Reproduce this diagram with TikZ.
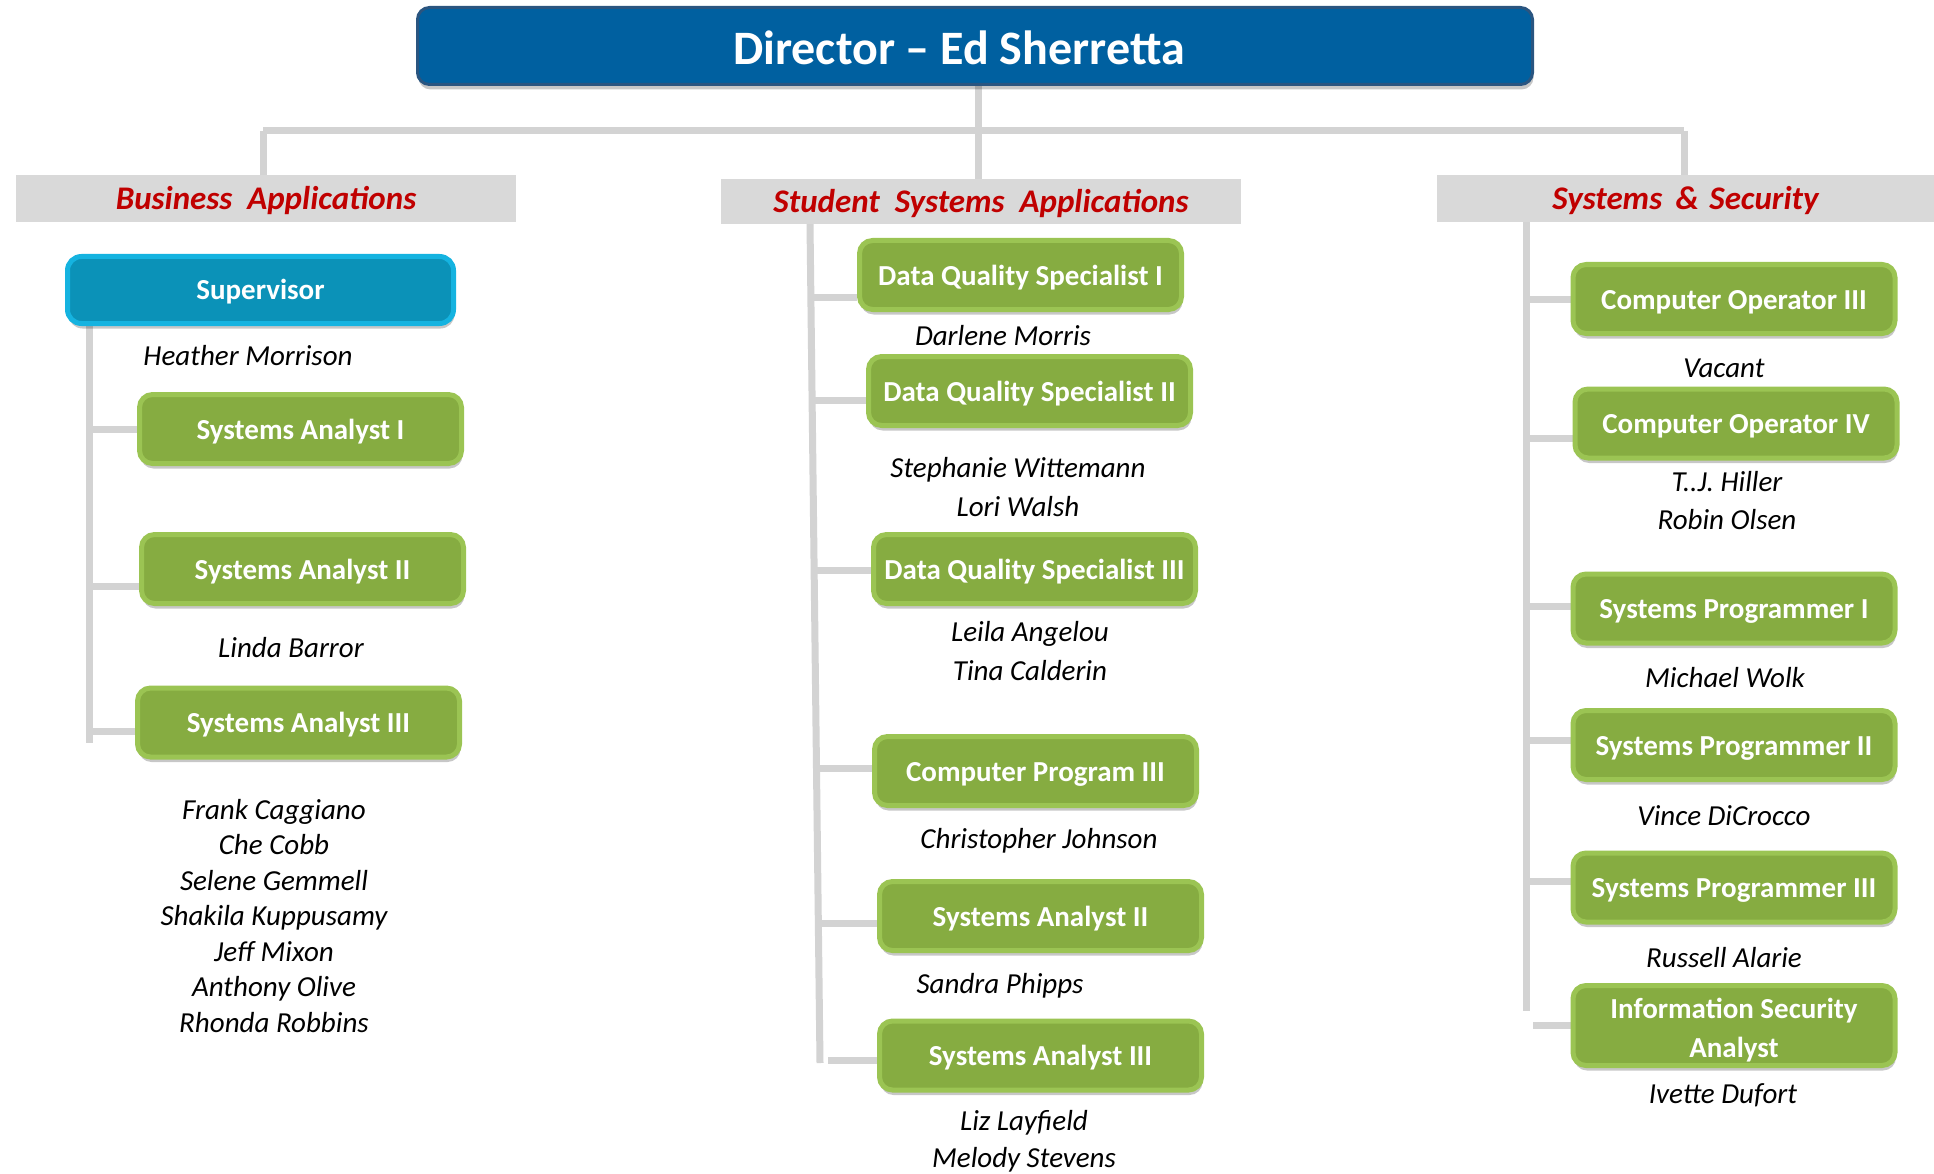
\documentclass[tikz,border=0pt]{standalone}
\usepackage{fontspec}
\setmainfont{Carlito}
\usetikzlibrary{shadows}
\pgfdeclarelayer{bg}
\pgfsetlayers{bg,main}
\definecolor{gfill}{HTML}{86AC41}
\definecolor{gline}{HTML}{9BC453}
\definecolor{dfill}{HTML}{0060A0}
\definecolor{dline}{HTML}{2A5580}
\definecolor{sfill}{HTML}{0B92B8}
\definecolor{sline}{HTML}{15B3E0}
\definecolor{hfill}{HTML}{D9D9D9}
\definecolor{conncol}{HTML}{D3D3D3}
\definecolor{hred}{HTML}{C00000}
\tikzset{
  boxshadow/.style={drop shadow={shadow xshift=1pt, shadow yshift=-5pt, fill=black, opacity=0.22}},
  gbox/.style={boxshadow, draw=gline, fill=gfill, line width=5pt, rounded corners=13pt,
    minimum width=322pt, minimum height=69pt, inner sep=0pt, text=white,
    text height=20pt, text depth=0pt,
    font=\fontsize{29}{39}\selectfont\bfseries, align=center},
  isabox/.style={boxshadow, draw=gline, fill=gfill, line width=5pt, rounded corners=13pt,
    minimum width=322pt, minimum height=80pt, inner sep=0pt, text=white,
    font=\fontsize{29}{39}\selectfont\bfseries},
  supbox/.style={boxshadow, draw=sline, fill=sfill, line width=5pt, rounded corners=14pt,
    minimum width=386pt, minimum height=67pt, inner sep=0pt, text=white,
    text height=20pt, text depth=2pt,
    font=\fontsize{29}{33}\selectfont\bfseries},
  dirbox/.style={boxshadow, draw=dline, fill=dfill, line width=3pt, rounded corners=12pt,
    minimum width=1115pt, minimum height=77pt, inner sep=0pt, text=white,
    text height=38pt, text depth=0pt,
    font=\fontsize{48}{52}\selectfont\bfseries},
  hbar/.style={fill=hfill, inner sep=0pt, text=hred, text height=23pt, text depth=1pt,
    font=\fontsize{33}{37}\selectfont\bfseries\itshape},
  pname/.style={inner sep=0pt, align=center, font=\fontsize{29}{34}\selectfont\itshape},
  conn/.style={draw=conncol, line width=7pt},
}
\begin{document}
\begin{tikzpicture}[x=1pt,y=-1pt]
\useasboundingbox (0,0) rectangle (1934,1174);
% director
\node[dirbox] (dir) at (975,46) {Director -- Ed Sherretta\hspace*{32pt}};
% header bars
\node[hbar, minimum width=500pt, minimum height=47pt] (hl) at (266,198.5) {Business \ Applications};
\node[hbar, minimum width=520pt, minimum height=45pt] (hm) at (981,201.5) {Student \ Systems \ Applications};
\node[hbar, minimum width=497pt, minimum height=47pt] (hr) at (1685.5,198.5) {Systems\hspace{6pt} \&\hspace{3pt} Security};
% left column
\node[supbox] (sup) at (260.5,290) {Supervisor};
\node[pname] (n1) at (248,356) {Heather Morrison};
\node[gbox] (la1) at (300.5,429) {Systems Analyst I};
\node[gbox] (la2) at (302.5,569) {Systems Analyst II};
\node[pname] (n2) at (291,648) {Linda Barror};
\node[gbox] (la3) at (298.5,722.5) {Systems Analyst III};
\node[pname, font=\fontsize{29}{35.5}\selectfont\itshape] (n3) at (274,916) {Frank Caggiano\\Che Cobb\\Selene Gemmell\\Shakila Kuppusamy\\Jeff Mixon\\Anthony Olive\\Rhonda Robbins};
% middle column
\node[gbox] (m1) at (1020.5,275) {Data Quality Specialist I};
\node[pname] (n4) at (1003,336) {Darlene Morris};
\node[gbox] (m2) at (1029.5,391) {Data Quality Specialist II};
\node[pname, font=\fontsize{29}{39}\selectfont\itshape] (n5) at (1018,487) {Stephanie Wittemann\\Lori Walsh};
\node[gbox] (m3) at (1034.5,569) {Data Quality Specialist III};
\node[pname, font=\fontsize{29}{39}\selectfont\itshape] (n6) at (1030,651) {Leila Angelou\\Tina Calderin};
\node[gbox] (m4) at (1035.5,771) {Computer Program III};
\node[pname] (n7) at (1039,841) {Christopher Johnson};
\node[gbox] (m5) at (1040.5,916) {Systems Analyst II};
\node[pname] (n8) at (1000,986) {Sandra Phipps};
\node[gbox] (m6) at (1040.5,1055.5) {Systems Analyst III};
\node[pname, font=\fontsize{29}{37}\selectfont\itshape] (n9) at (1024,1141) {Liz Layfield\\Melody Stevens};
% right column
\node[gbox] (r1) at (1734,299) {Computer Operator III};
\node[pname] (n10) at (1724,368) {Vacant};
\node[gbox] (r2) at (1736,423.5) {Computer Operator IV};
\node[pname, font=\fontsize{29}{38}\selectfont\itshape] (n11) at (1727,501) {T..J. Hiller\\Robin Olsen};
\node[gbox] (r3) at (1734,608.5) {Systems Programmer I};
\node[pname] (n12) at (1725,678) {Michael Wolk};
\node[gbox] (r4) at (1734,745) {Systems Programmer II};
\node[pname] (n13) at (1724,816) {Vince DiCrocco};
\node[gbox] (r5) at (1734,887.5) {Systems Programmer III};
\node[pname] (n14) at (1724,958) {Russell Alarie};
\node[isabox] (r6) at (1734,1025.5) {\raisebox{0pt}[\height][\dimexpr\depth-10pt\relax]{\begin{tabular}{@{}c@{}}Information Security\\Analyst\end{tabular}}};
\node[pname] (n15) at (1723,1095) {Ivette Dufort};
% connectors
\coordinate (jl) at (263,131);
\coordinate (jm) at (978,131);
\coordinate (jr) at (1684,131);
\coordinate (lb) at (89,743);
\coordinate (mt) at (810,224);
\coordinate (mb) at (820,1063);
\coordinate (rt) at (1526,222);
\coordinate (rb) at (1526,1011);
\coordinate (bl1) at (89,429);
\coordinate (bl2) at (89,586);
\coordinate (bl3) at (89,731);
\coordinate (bm1) at (811,297);
\coordinate (bm2) at (812,400);
\coordinate (bm3) at (814,570);
\coordinate (bm4) at (816,768);
\coordinate (bm5) at (818,923);
\coordinate (bm6) at (828,1060);
\coordinate (br1) at (1526,299);
\coordinate (br2) at (1526,438);
\coordinate (br3) at (1526,606);
\coordinate (br4) at (1526,740);
\coordinate (br5) at (1526,881);
\coordinate (br6) at (1533,1025);
\begin{pgfonlayer}{bg}
\draw[conn] (jl) -- (jr);
\draw[conn] (dir.south -| jm) -- (hm.north -| jm);
\draw[conn] (jl) -- (hl.north -| jl);
\draw[conn] (jr) -- (hr.north -| jr);
\draw[conn] (sup.south -| lb) -- (lb);
\draw[conn] (mt) -- (mb);
\draw[conn] (rt) -- (rb);
\draw[conn] (bl1) -- (bl1 -| la1.west);
\draw[conn] (bl2) -- (bl2 -| la2.west);
\draw[conn] (bl3) -- (bl3 -| la3.west);
\draw[conn] (bm1) -- (bm1 -| m1.west);
\draw[conn] (bm2) -- (bm2 -| m2.west);
\draw[conn] (bm3) -- (bm3 -| m3.west);
\draw[conn] (bm4) -- (bm4 -| m4.west);
\draw[conn] (bm5) -- (bm5 -| m5.west);
\draw[conn] (bm6) -- (bm6 -| m6.west);
\draw[conn] (br1) -- (br1 -| r1.west);
\draw[conn] (br2) -- (br2 -| r2.west);
\draw[conn] (br3) -- (br3 -| r3.west);
\draw[conn] (br4) -- (br4 -| r4.west);
\draw[conn] (br5) -- (br5 -| r5.west);
\draw[conn] (br6) -- (br6 -| r6.west);
\end{pgfonlayer}
\end{tikzpicture}
\end{document}
